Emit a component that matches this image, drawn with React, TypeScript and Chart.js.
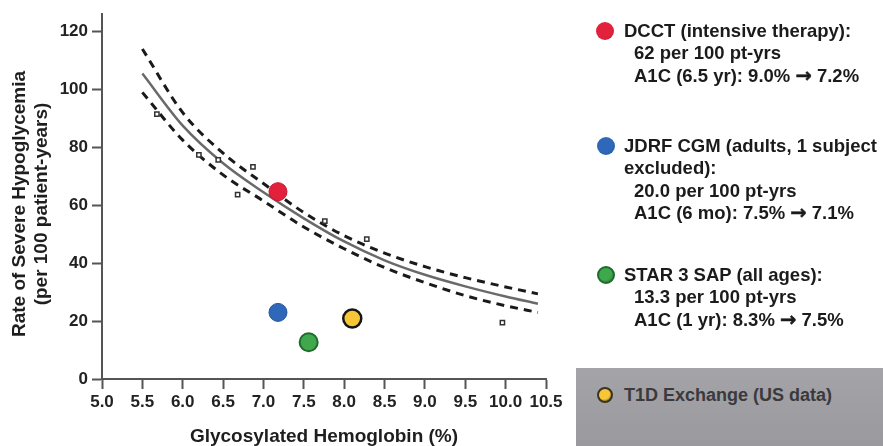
import React, { useEffect, useRef } from "react";
import { Chart, registerables } from "chart.js";

Chart.register(...registerables);

// Fitted curve and 95% band
const fitX = [5.5, 6.0, 6.5, 7.0, 7.5, 8.0, 8.5, 9.0, 9.5, 10.0, 10.4];
const fitY = [105.5, 87.5, 74.5, 64.5, 55.5, 47.5, 41, 36, 32, 28.5, 26];
const upperY = [114, 92, 78, 67.5, 57.5, 49.5, 43.5, 38.8, 35, 31.8, 29.4];
const lowerY = [99, 82.5, 70.5, 61.5, 52.5, 45, 38.5, 33.3, 28.8, 25.3, 23];

// Small observed points
const obsX = [5.68, 6.2, 6.44, 6.68, 6.87, 7.76, 8.28, 9.96];
const obsY = [91.5, 77.4, 75.7, 63.7, 73.3, 54.5, 48.3, 19.5];

// Studies
const studyNames = ["DCCT", "JDRF CGM", "STAR 3 SAP", "T1D Exchange"];
const studyX = [7.18, 7.18, 7.56, 8.1];
const studyY = [64.7, 23, 12.7, 20.9];
const studyFill = ["#e2223c", "#2f68b8", "#3fa84c", "#f6c636"];
const studyBorder = ["#c0182e", "#24569c", "#1f6a2c", "#151515"];
const studyBorderW = [1, 1, 2, 2.5];

// Axes
const xTickValues = [5.0, 5.5, 6.0, 6.5, 7.0, 7.5, 8.0, 8.5, 9.0, 9.5, 10.0, 10.5];
const yTickValues = [0, 20, 40, 60, 80, 100, 120];
const xTitle = "Glycosylated Hemoglobin (%)";
const yTitleLines = ["Rate of Severe Hypoglycemia", "(per 100 patient-years)"];

// Legend text
const dcctLines = ["DCCT (intensive therapy):", "62 per 100 pt-yrs", "A1C (6.5 yr): 9.0% \u2192 7.2%"];
const jdrfLines = ["JDRF CGM (adults, 1 subject", "excluded):", "20.0 per 100 pt-yrs", "A1C (6 mo): 7.5% \u2192 7.1%"];
const starLines = ["STAR 3 SAP (all ages):", "13.3 per 100 pt-yrs", "A1C (1 yr): 8.3% \u2192 7.5%"];
const t1dLine = "T1D Exchange (US data)";

const FONT = '"Liberation Sans", Arial, Helvetica, sans-serif';
const ARROW = "\u2192";

const yTitlePlugin = {
  id: "yTitleRotated",
  afterDraw(chart: any) {
    const ctx = chart.ctx;
    ctx.save();
    ctx.font = `bold 19px ${FONT}`;
    ctx.fillStyle = "#1e1e1e";
    ctx.textAlign = "center";
    ctx.textBaseline = "middle";
    yTitleLines.forEach((t, i) => {
      ctx.save();
      ctx.translate(20 + i * 22, 204);
      ctx.rotate(-Math.PI / 2);
      ctx.fillText(t, 0, 0);
      ctx.restore();
    });
    ctx.restore();
  },
};

function Dot({ x, y, r, fill, border, bw }: any) {
  return (
    <div
      style={{
        position: "absolute",
        left: x - r,
        top: y - r,
        width: r * 2,
        height: r * 2,
        borderRadius: "50%",
        boxSizing: "border-box",
        border: `${bw}px solid ${border}`,
        background: `radial-gradient(circle at 40% 35%, ${fill} 55%, ${border} 100%)`,
      }}
    />
  );
}

function withArrow(text: string) {
  const parts = text.split(ARROW);
  if (parts.length === 1) return text;
  return (
    <>
      {parts[0]}
      <span style={{ fontFamily: '"DejaVu Sans", sans-serif', fontWeight: 900, fontSize: "19.5px", WebkitTextStroke: "0.5px #1b1b1b" }}>{ARROW}</span>
      {parts[1]}
    </>
  );
}

function Lines({ x, y, lines, indent }: any) {
  return (
    <div style={{ position: "absolute", left: x, top: y, font: `bold 18.5px ${FONT}`, color: "#1b1b1b", lineHeight: "22.3px", whiteSpace: "nowrap" }}>
      {lines.map((l: string, i: number) => (
        <div key={i} style={{ paddingLeft: i >= indent ? 10 : 0, height: "22.3px" }}>{withArrow(l)}</div>
      ))}
    </div>
  );
}

export default function App() {
  const ref = useRef<HTMLCanvasElement>(null);

  useEffect(() => {
    const ctx = ref.current!.getContext("2d")!;
    const lineDs = (label: string, ys: number[], color: string, width: number, dash: number[]) => ({
      type: "line" as const,
      label,
      data: fitX.map((x, i) => ({ x, y: ys[i] })),
      borderColor: color,
      borderWidth: width,
      borderDash: dash,
      pointRadius: 0,
      fill: false,
      cubicInterpolationMode: "monotone" as const,
    });
    const chart = new Chart(ctx, {
      type: "scatter",
      data: {
        datasets: [
          {
            label: "Studies",
            data: studyX.map((x, i) => ({ x, y: studyY[i] })),
            backgroundColor: studyFill,
            borderColor: studyBorder,
            borderWidth: studyBorderW,
            pointRadius: 9,
          } as any,
          {
            label: "Observed",
            data: obsX.map((x, i) => ({ x, y: obsY[i] })),
            pointStyle: "rect",
            pointRadius: 3,
            backgroundColor: "#ffffff",
            borderColor: "#333333",
            borderWidth: 1.5,
          } as any,
          lineDs("Upper", upperY, "#1a1a1a", 3, [8, 6]),
          lineDs("Fit", fitY, "#6a6a6a", 2.5, []),
          lineDs("Lower", lowerY, "#1a1a1a", 3, [8, 6]),
        ],
      },
      options: {
        animation: false,
        responsive: false,
        maintainAspectRatio: false,
        layout: { padding: { left: 0, right: 337, top: 11, bottom: 0 } },
        plugins: { legend: { display: false }, tooltip: { enabled: false } },
        scales: {
          x: {
            type: "linear",
            min: 5,
            max: 10.5,
            afterBuildTicks: (s: any) => {
              s.ticks = xTickValues.map((v) => ({ value: v }));
            },
            afterFit: (s: any) => {
              s.height = 67;
            },
            ticks: {
              callback: (v: any) => Number(v).toFixed(1),
              font: { family: FONT, size: 17, weight: "bold" },
              color: "#222",
              padding: 3,
              maxRotation: 0,
              autoSkip: false,
            },
            grid: { drawOnChartArea: false, drawTicks: true, tickLength: 10, tickWidth: 2, tickColor: "#555" },
            border: { display: true, color: "#555", width: 2 },
            title: {
              display: true,
              text: xTitle,
              font: { family: FONT, size: 19, weight: "bold", lineHeight: 1 },
              color: "#1e1e1e",
              padding: 0,
            },
          },
          y: {
            type: "linear",
            min: 0,
            max: 126,
            afterBuildTicks: (s: any) => {
              s.ticks = yTickValues.map((v) => ({ value: v }));
            },
            afterFit: (s: any) => {
              s.width = 102;
            },
            ticks: {
              font: { family: FONT, size: 17, weight: "bold" },
              color: "#222",
              padding: 4,
            },
            grid: { drawOnChartArea: false, drawTicks: true, tickLength: 10, tickWidth: 2, tickColor: "#555" },
            border: { display: true, color: "#555", width: 2 },
          },
        },
      } as any,
      plugins: [yTitlePlugin],
    });
    return () => chart.destroy();
  }, []);

  return (
    <div style={{ position: "fixed", left: 0, top: 0, width: 883, height: 446, background: "#fff", overflow: "hidden" }}>
      <canvas ref={ref} width={883} height={446} style={{ position: "absolute", left: 0, top: 0, width: 883, height: 446 }} />
      <div style={{ position: "absolute", left: 576, top: 368, width: 307, height: 78, background: "linear-gradient(#a4a3a7, #9a999d)" }} />
      <Dot x={605} y={31} r={9} fill={studyFill[0]} border={studyBorder[0]} bw={0} />
      <Dot x={606} y={146} r={9} fill={studyFill[1]} border={studyBorder[1]} bw={0} />
      <Dot x={606} y={275} r={9} fill={studyFill[2]} border={studyBorder[2]} bw={2} />
      <Dot x={605} y={395} r={8} fill={studyFill[3]} border={"#3a3320"} bw={2} />
      <Lines x={624} y={20} lines={dcctLines} indent={1} />
      <Lines x={624} y={135} lines={jdrfLines} indent={2} />
      <Lines x={624} y={264} lines={starLines} indent={1} />
      <div style={{ position: "absolute", left: 624, top: 384, font: `bold 18px ${FONT}`, color: "#3a3a3c", lineHeight: "22px", whiteSpace: "nowrap" }}>
        {t1dLine}
      </div>
      <span style={{ display: "none" }}>{studyNames.join(",")}</span>
    </div>
  );
}
